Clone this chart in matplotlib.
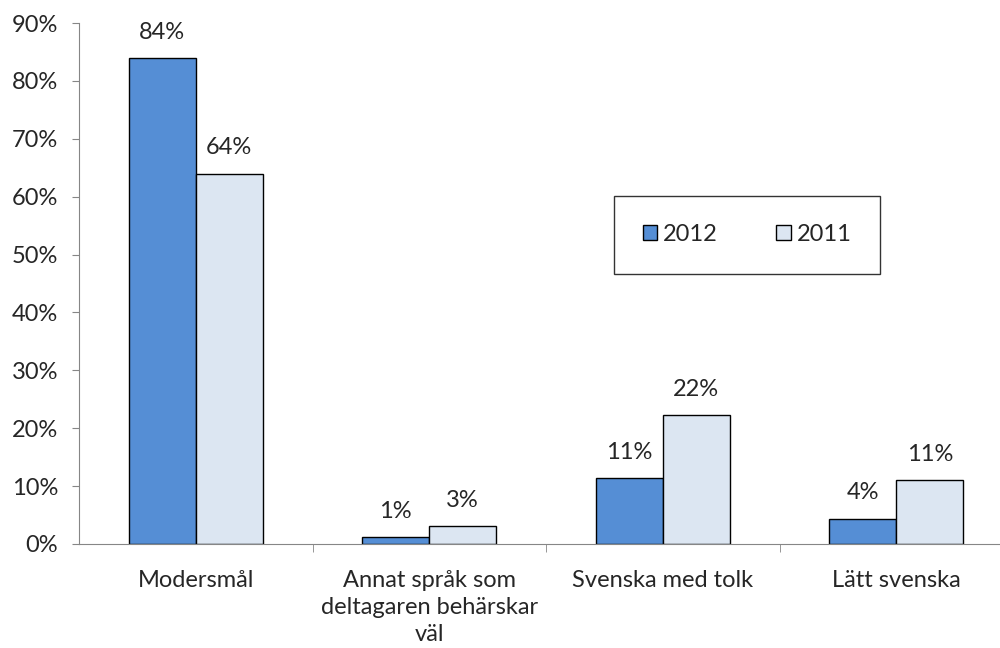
import matplotlib.pyplot as plt
import numpy as np
from matplotlib.ticker import FixedLocator, PercentFormatter

categories = ['Modersmål', 'Annat språk som\ndeltagaren behärskar\nväl',
              'Svenska med tolk', 'Lätt svenska']
vals_2012 = [84.0, 1.2, 11.4, 4.4]
vals_2011 = [64.0, 3.1, 22.2, 11.1]

plt.rcParams['font.family'] = ['Lato', 'DejaVu Sans']
fs = 17

fig = plt.figure(figsize=(10, 6.48), dpi=100)
ax = fig.add_axes([0.079, 0.1605, 0.934, 0.804])

x = np.arange(len(categories))
w = 0.287
b1 = ax.bar(x - w / 2, vals_2012, w, color='#558ED5', edgecolor='black', lw=1, label='2012')
b2 = ax.bar(x + w / 2, vals_2011, w, color='#DCE6F2', edgecolor='black', lw=1, label='2011')

for bars, vals in ((b1, vals_2012), (b2, vals_2011)):
    for r, v in zip(bars, vals):
        ax.text(r.get_x() + r.get_width() / 2, v + 2.6, f'{round(v)}%',
                ha='center', va='bottom', fontsize=fs, color='#262626')

ax.set_xlim(-0.5, len(categories) - 0.5)
ax.set_ylim(0, 90)
ax.set_yticks(np.arange(0, 91, 10))
ax.yaxis.set_major_formatter(PercentFormatter(decimals=0))

ax.set_xticks(x)
ax.set_xticklabels(categories, linespacing=1.35)
ax.xaxis.set_minor_locator(FixedLocator(np.arange(0.5, len(categories) - 0.5, 1)))
ax.tick_params(axis='x', which='major', length=0, pad=19, labelsize=fs, labelcolor='#262626')
ax.tick_params(axis='x', which='minor', length=6, color='#868686', direction='out')
ax.tick_params(axis='y', length=5, color='#868686', labelsize=fs, labelcolor='#262626', pad=10)

for s in ('top', 'right'):
    ax.spines[s].set_visible(False)
for s in ('left', 'bottom'):
    ax.spines[s].set_color('#868686')

leg = ax.legend(loc='upper left', bbox_to_anchor=(0.573, 0.668), ncol=2, fontsize=fs,
                frameon=True, fancybox=False, borderpad=1.2, handlelength=0.6,
                handleheight=0.6, handletextpad=0.25, columnspacing=2.5, borderaxespad=0)
leg.get_frame().set_edgecolor('black')
leg.get_frame().set_linewidth(1)
for t in leg.get_texts():
    t.set_color('#262626')

fig.savefig('out.png', dpi=100)
